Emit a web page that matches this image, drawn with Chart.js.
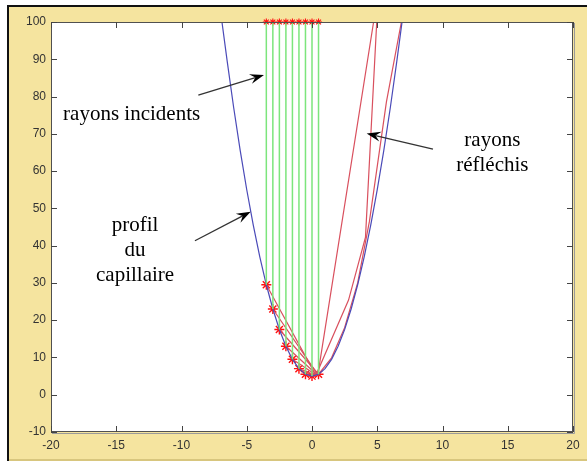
<!DOCTYPE html>
<html>
<head>
<meta charset="utf-8">
<script src="https://cdn.jsdelivr.net/npm/chart.js@4.4.1/dist/chart.umd.min.js"></script>
<style>
  html, body { margin: 0; padding: 0; background: #fff; }
  #wrap { width: 587px; height: 461px; }
</style>
</head>
<body>
<div id="wrap"><canvas id="graphe" width="587" height="461"></canvas></div>
<script>
// profil du capillaire
const profilX = [-6.9, -6.5, -6, -5.5, -5, -4.5, -4, -3.5, -3, -2.5, -2, -1.5, -1, -0.5, 0,
                 0.5, 1, 1.5, 2, 2.5, 3, 3.5, 4, 4.5, 5, 5.5, 6, 6.5, 6.9];
const profilY = [100, 89.5, 77, 65.5, 55, 45.5, 37, 29.5, 23, 17.5, 13, 9.5, 7, 5.5, 5,
                 5.5, 7, 9.5, 13, 17.5, 23, 29.5, 37, 45.5, 55, 65.5, 77, 89.5, 100];

// rayons incidents : abscisses, point d'impact sur le profil
const rayonsX = [-3.5, -3, -2.5, -2, -1.5, -1, -0.5, 0, 0.5];
const impactY = [29.5, 23, 17.5, 13, 9.5, 7, 5.5, 5, 5.5];
const sourceY = 100;

// rayons réfléchis (lignes brisées)
const reflechis = [
    { x: [-3.5, 0.3, 2.8, 4.1, 4.96], y: [29.5, 5.2, 25.4, 42.3, 100] },
    { x: [-3, 0.45, 4.72], y: [23, 5.4, 100] },
    { x: [-2.5, 0.5, 1.5, 2.5, 3.5, 4.4, 5.7, 6.85], y: [17.5, 5.5, 9.9, 18, 30, 46.5, 78.5, 100] },
    { x: [-2, 0.4], y: [13, 5.3] },
    { x: [-1.5, 0.35], y: [9.5, 5.2] },
    { x: [-1, 0.3], y: [7, 5.2] },
    { x: [-0.5, 0.2], y: [5.5, 5.1] }
];

const ticksX = [-20, -15, -10, -5, 0, 5, 10, 15, 20];
const ticksY = [-10, 0, 10, 20, 30, 40, 50, 60, 70, 80, 90, 100];

// textes et flèches, en coordonnées du graphe
const textes = [
    { t: 'rayons incidents', x: -13.82, y: 75.3 },
    { t: 'profil', x: -13.56, y: 45.5 },
    { t: 'du', x: -13.56, y: 38.6 },
    { t: 'capillaire', x: -13.56, y: 31.9 },
    { t: 'rayons', x: 13.82, y: 68.3 },
    { t: 'réfléchis', x: 13.82, y: 61.6 }
];
const fleches = [
    { x0: -8.71, y0: 80.4, x1: -3.68, y1: 85.8 },
    { x0: -8.97, y0: 41.3, x1: -4.70, y1: 49.1 },
    { x0: 9.27, y0: 65.9, x1: 4.19, y1: 70.1 }
];

const beige = '#f5e49f';

const pts = (xs, ys) => xs.map((x, i) => ({ x: x, y: ys[i] }));

const datasets = [];
rayonsX.forEach((x, i) => {
    datasets.push({
        data: [{ x: x, y: sourceY }, { x: x, y: impactY[i] }],
        borderColor: '#7ce57c', borderWidth: 1.5, pointRadius: 0
    });
});
datasets.push({
    data: pts(profilX, profilY),
    borderColor: '#4a4ab8', borderWidth: 1.2, pointRadius: 0
});
reflechis.forEach(r => {
    datasets.push({
        data: pts(r.x, r.y),
        borderColor: '#d9505e', borderWidth: 1.2, pointRadius: 0
    });
});
datasets.push({
    data: pts(rayonsX, impactY),
    showLine: false, pointStyle: 'star', pointRadius: 5,
    pointBorderColor: '#ff1010', pointBorderWidth: 1.4, clip: false
});
datasets.push({
    data: rayonsX.map(x => ({ x: x, y: sourceY })),
    showLine: false, pointStyle: 'star', pointRadius: 3.5,
    pointBorderColor: '#ff1010', pointBorderWidth: 1.1, clip: false
});

const cadre = {
    id: 'cadre',
    beforeDraw(chart) {
        const c = chart.ctx, a = chart.chartArea;
        c.save();
        c.fillStyle = '#fff';
        c.fillRect(0, 0, chart.width, chart.height);
        c.fillStyle = beige;
        c.fillRect(9, 7, chart.width - 9, chart.height - 7);
        c.fillStyle = '#111';
        c.fillRect(7, 5, chart.width - 7, 2);
        c.fillRect(7, 5, 2, chart.height - 5);
        c.fillStyle = '#d8c67e';
        c.fillRect(9, chart.height - 2, chart.width - 9, 2);
        c.fillStyle = '#fff';
        c.fillRect(a.left, a.top, a.right - a.left, a.bottom - a.top);
        c.restore();
    },
    afterDraw(chart) {
        const c = chart.ctx, a = chart.chartArea;
        const sx = chart.scales.x, sy = chart.scales.y;
        c.save();
        c.strokeStyle = '#505050';
        c.lineWidth = 1;
        c.strokeRect(a.left + 0.5, a.top + 0.5, a.right - a.left - 1, a.bottom - a.top - 1);
        c.strokeStyle = '#9a9a9a';
        c.beginPath();
        c.moveTo(a.right + 1.5, a.top + 1);
        c.lineTo(a.right + 1.5, a.bottom + 1.5);
        c.lineTo(a.left + 1, a.bottom + 1.5);
        c.stroke();
        // graduations vers l'intérieur
        c.strokeStyle = '#444';
        c.beginPath();
        ticksX.forEach(v => {
            const px = Math.round(sx.getPixelForValue(v)) + 0.5;
            c.moveTo(px, a.bottom); c.lineTo(px, a.bottom - 6);
            c.moveTo(px, a.top); c.lineTo(px, a.top + 6);
        });
        ticksY.forEach(v => {
            const py = Math.round(sy.getPixelForValue(v)) + 0.5;
            c.moveTo(a.left, py); c.lineTo(a.left + 6, py);
            c.moveTo(a.right, py); c.lineTo(a.right - 6, py);
        });
        c.stroke();

        // flèches
        fleches.forEach(f => {
            const x0 = sx.getPixelForValue(f.x0), y0 = sy.getPixelForValue(f.y0);
            const x1 = sx.getPixelForValue(f.x1), y1 = sy.getPixelForValue(f.y1);
            const ang = Math.atan2(y1 - y0, x1 - x0);
            c.strokeStyle = '#333';
            c.lineWidth = 1.3;
            c.beginPath();
            c.moveTo(x0, y0);
            c.lineTo(x1 - 9 * Math.cos(ang), y1 - 9 * Math.sin(ang));
            c.stroke();
            c.fillStyle = '#000';
            c.beginPath();
            c.moveTo(x1, y1);
            c.lineTo(x1 - 15 * Math.cos(ang - 0.34), y1 - 15 * Math.sin(ang - 0.34));
            c.lineTo(x1 - 9 * Math.cos(ang), y1 - 9 * Math.sin(ang));
            c.lineTo(x1 - 15 * Math.cos(ang + 0.34), y1 - 15 * Math.sin(ang + 0.34));
            c.closePath();
            c.fill();
        });

        // textes
        c.fillStyle = '#000';
        c.font = '21px "Liberation Serif", "Times New Roman", serif';
        c.textAlign = 'center';
        c.textBaseline = 'middle';
        textes.forEach(t => {
            c.fillText(t.t, sx.getPixelForValue(t.x), sy.getPixelForValue(t.y));
        });
        c.restore();
    }
};

const policeTicks = { family: '"Liberation Sans", Arial, sans-serif', size: 12 };

new Chart(document.getElementById('graphe'), {
    type: 'scatter',
    data: { datasets: datasets },
    options: {
        responsive: false,
        animation: false,
        showLine: true,
        layout: { padding: { left: 0, top: 22, right: 14, bottom: 0 } },
        plugins: { legend: { display: false }, tooltip: { enabled: false } },
        elements: { line: { tension: 0 } },
        scales: {
            x: {
                type: 'linear', min: -20, max: 20,
                border: { display: false },
                grid: { display: false, drawTicks: false },
                ticks: { stepSize: 5, color: '#333', font: policeTicks, padding: 6, maxRotation: 0 },
                afterFit: s => { s.height = 29; }
            },
            y: {
                type: 'linear', min: -10, max: 100,
                border: { display: false },
                grid: { display: false, drawTicks: false },
                ticks: { stepSize: 10, color: '#333', font: policeTicks, padding: 5 },
                afterFit: s => { s.width = 51; }
            }
        }
    },
    plugins: [cadre]
});
</script>
</body>
</html>
